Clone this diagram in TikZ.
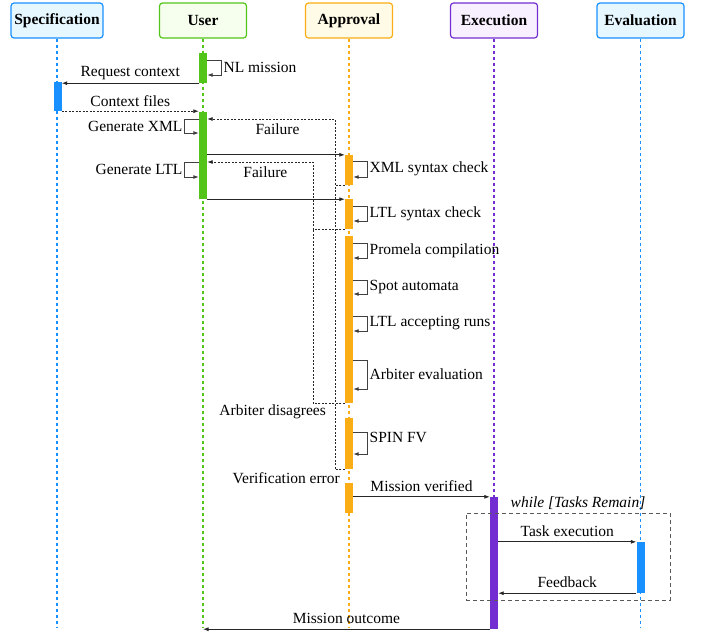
\documentclass[tikz,border=0pt]{standalone}
\usepackage{fontspec}
\setmainfont{Liberation Serif}
\usetikzlibrary{arrows.meta,positioning,calc}

\definecolor{specblue}{HTML}{1890FF}
\definecolor{specfill}{HTML}{E6F7FF}
\definecolor{usergreen}{HTML}{52C41A}
\definecolor{userfill}{HTML}{F6FFED}
\definecolor{apporange}{HTML}{FAAD14}
\definecolor{appfill}{HTML}{FFFBE6}
\definecolor{execpurple}{HTML}{722ED1}
\definecolor{execfill}{HTML}{F9F0FF}

\newcommand{\seqfont}{\fontsize{15.5}{18}\selectfont}

\tikzset{
	actor/.style={draw=#1, rounded corners=3pt, line width=1.2pt, minimum width=87pt, minimum height=35pt, font=\seqfont\bfseries},
	lifeline/.style={draw=#1, line width=1.1pt, dash pattern=on 3pt off 3pt},
	actbar/.style={fill=#1, draw=none, minimum width=8pt, inner sep=0pt},
	msg/.style={-{Latex[length=5.5pt,width=4pt]}, line width=0.8pt, black!85},
	selfmsg/.style={msg, line width=0.9pt, black!75},
	ret/.style={msg, dash pattern=on 2pt off 1.5pt},
	loopframe/.style={draw=black!65, line width=0.9pt, dash pattern=on 4pt off 3pt},
	lbl/.style={inner sep=2pt, text=black, font=\seqfont}
}

\begin{document}
\begin{tikzpicture}[x=1pt, y=-1pt, font=\seqfont]
		\useasboundingbox (0,0) rectangle (706,633);
		\coordinate (bottom) at (0,628);

		\node[actor=specblue, fill=specfill] (spec) at (57,20.5) {Specification};
		\node[actor=usergreen, fill=userfill] (user) at (203,20.5) {User};
		\node[actor=apporange, fill=appfill] (appr) at (349,20.5) {Approval};
		\node[actor=execpurple, fill=execfill] (exec) at (494,20.5) {Execution};
		\node[actor=specblue, fill=specfill] (eval) at (640.5,20.5) {Evaluation};

		\draw[lifeline=specblue] (spec.south) -- (spec.south |- bottom);
		\draw[lifeline=usergreen] (user.south) -- (user.south |- bottom);
		\draw[lifeline=apporange] (appr.south) -- (appr.south |- bottom);
		\draw[lifeline=execpurple] (exec.south) -- (exec.south |- bottom);
		\draw[lifeline=specblue] (eval.south) -- (eval.south |- bottom);

		\node[actbar=specblue, minimum height=29pt] (s1) at (57.5,96.5) {};
		\node[actbar=usergreen, minimum height=30pt] (u1) at (203,68) {};
		\node[actbar=usergreen, minimum height=87pt] (u2) at (203,155.5) {};
		\node[actbar=apporange, minimum height=30pt] (a1) at (349,170) {};
		\node[actbar=apporange, minimum height=30pt] (a2) at (349,214) {};
		\node[actbar=apporange, minimum height=167pt] (a3) at (349,319.5) {};
		\node[actbar=apporange, minimum height=51pt] (a4) at (349,443.5) {};
		\node[actbar=apporange, minimum height=30pt] (a5) at (349,498) {};
		\node[actbar=execpurple, minimum height=132pt] (x1) at (494,563) {};
		\node[actbar=specblue, minimum height=51pt] (e1) at (640.5,567.5) {};

		\node[loopframe, minimum width=204pt, minimum height=87pt] (tasks) at (568,556.5) {};
		\node[lbl, font=\seqfont\itshape] (cond) at (578,503) {while [Tasks Remain]};

		\draw[selfmsg] (u1.east |- 0,60) -- ++(14,0) -- ++(0,15) node[midway, right, lbl] (nlm) {NL mission} -- ++(-14,0);
		\draw[msg] (u1.south west) -- (u1.south west -| s1.east) node[midway, above=1pt, lbl] (reqc) {Request context};
		\draw[ret] (s1.south east) -- (s1.south east -| u2.west) node[midway, above=2.5pt, lbl] (ctxf) {Context files};

		\draw[selfmsg] (u2.west |- 0,119) -- ++(-14,0) -- ++(0,14) node[midway, left, lbl] (genx) {Generate XML} -- ++(14,0);
		\draw[selfmsg] (u2.west |- 0,162) -- ++(-14,0) -- ++(0,15) node[midway, left, lbl] (genl) {Generate LTL} -- ++(14,0);

		\draw[msg] (a1.north west -| u2.east) -- (a1.north west);
		\draw[msg] (u2.south east) -- (u2.south east -| a2.west);

		\draw[selfmsg] (a1.east |- 0,161) -- ++(14,0) -- ++(0,16) node[midway, right, lbl] (xmlc) {XML syntax check} -- ++(-14,0);
		\draw[selfmsg] (a2.east |- 0,206) -- ++(14,0) -- ++(0,15) node[midway, right, lbl] (ltlc) {LTL syntax check} -- ++(-14,0);
		\draw[selfmsg] (a3.east |- 0,243) -- ++(14,0) -- ++(0,15) node[midway, right, lbl] (prom) {Promela compilation} -- ++(-14,0);
		\draw[selfmsg] (a3.east |- 0,280) -- ++(14,0) -- ++(0,14) node[midway, right, lbl] (spot) {Spot automata} -- ++(-14,0);
		\draw[selfmsg] (a3.east |- 0,316) -- ++(14,0) -- ++(0,15) node[midway, right, lbl] (runs) {LTL accepting runs} -- ++(-14,0);
		\draw[selfmsg] (a3.east |- 0,360) -- ++(14,0) -- ++(0,29) node[midway, right, lbl] (arbe) {Arbiter evaluation} -- ++(-14,0);
		\draw[selfmsg] (a4.east |- 0,432) -- ++(14,0) -- ++(0,22) node[pos=0.25, right, lbl] (spin) {SPIN FV} -- ++(-14,0);

		\coordinate (fx) at (335,119);
		\coordinate (fl) at (313,162);
		\draw[ret] (a1.south west) -| (fx) -- (fx -| u2.east) node[pos=0.45, below=2pt, lbl] (fail1) {Failure};
		\draw[ret] (a2.south west) -| (fl) -- (fl -| u2.east) node[pos=0.45, below=2pt, lbl] (fail2) {Failure};
		\draw[ret, -] (a3.south west) -| (fl |- a2.south);
		\draw[ret, -] (a4.south west) -| (fx |- a1.south);
		\node[lbl, anchor=east] (arbd) at (328,412) {Arbiter disagrees};
		\node[lbl, anchor=east] (verr) at (342,478) {Verification error};

		\draw[msg] (x1.north west -| a5.east) -- (x1.north west) node[midway, above=3pt, lbl] (mver) {Mission verified};
		\draw[msg] (e1.north west -| x1.east) -- (e1.north west) node[midway, above=3pt, lbl] (texe) {Task execution};
		\draw[msg] (e1.south west) -- (e1.south west -| x1.east) node[midway, above=3pt, lbl] (fdbk) {Feedback};
		\draw[msg] (x1.south west) -- (x1.south west -| user.south) node[midway, above=3pt, lbl] (mout) {Mission outcome};
	\end{tikzpicture}
\end{document}
